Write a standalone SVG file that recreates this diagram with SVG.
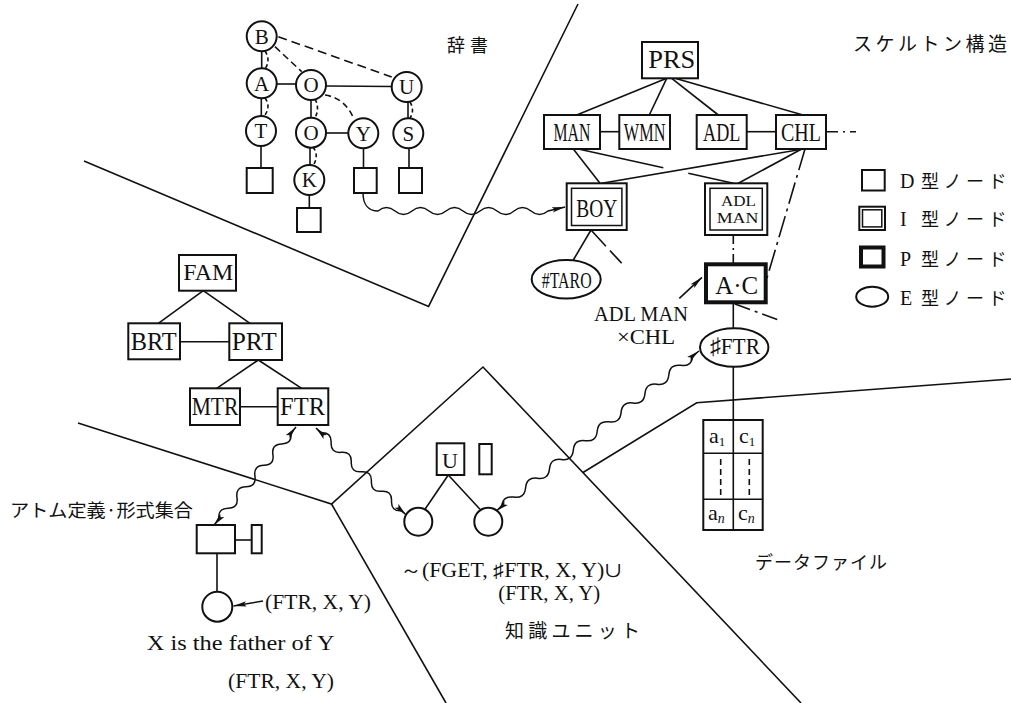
<svg xmlns="http://www.w3.org/2000/svg" width="1011" height="703" viewBox="0 0 1011 703">
<style>
.ln{stroke:#111;stroke-width:1.6;fill:none}
.bx{fill:#fff;stroke:#111;stroke-width:2}
.bx2{fill:none;stroke:#111;stroke-width:1.5}
.thk{fill:#fff;stroke:#111;stroke-width:4}
.wv{stroke:#111;stroke-width:1.5;fill:none}
.t{font-family:"Liberation Serif",serif;fill:#111;text-anchor:middle}
.tl{font-family:"Liberation Serif",serif;fill:#111}
.jp{font-family:"Noto Sans CJK JP",sans-serif;fill:#111}
.bd{stroke:#111;stroke-width:1.6;fill:none}
</style>
<defs>
<marker id="ah" viewBox="0 0 13 6" refX="13" refY="3" markerWidth="13" markerHeight="6" orient="auto-start-reverse" markerUnits="userSpaceOnUse"><path d="M0,0.3 L13,3 L0,5.7 L2.5,3 z" fill="#111"/></marker>
</defs>
<rect width="1011" height="703" fill="#fff"/>

<g id="boundaries">
<polyline class="bd" points="84,161 428.6,306.4 578,4"/>
<polyline class="bd" points="78,423 331.5,504 483,367 801,703"/>
<line class="bd" x1="331.5" y1="504" x2="446" y2="703"/>
<polyline class="bd" points="583,472.5 696.7,402.7 1011,379"/>
</g>

<g id="connectors">
<!-- dictionary -->
<line class="ln" x1="261.7" y1="51" x2="261.7" y2="68"/>
<path class="ln" d="M265,51 Q271,60 265,69" stroke-dasharray="4 3"/>
<line class="ln" x1="276.7" y1="84" x2="296" y2="84"/>
<line class="ln" x1="326" y1="86" x2="391.7" y2="86.5"/>
<line class="ln" x1="261.3" y1="98" x2="261.3" y2="116"/>
<path class="ln" d="M265,98 Q271,106 265,115" stroke-dasharray="4 3"/>
<line class="ln" x1="311" y1="100" x2="311" y2="118"/>
<path class="ln" d="M315,99 Q320,108 315,118" stroke-dasharray="4 3"/>
<line class="ln" x1="326" y1="133" x2="348.3" y2="133"/>
<line class="ln" x1="408" y1="102" x2="408" y2="118.3"/>
<path class="ln" d="M410,102 Q415,110 410,118" stroke-dasharray="4 3"/>
<line class="ln" x1="310" y1="147.7" x2="310" y2="165"/>
<path class="ln" d="M313,147 Q319,155 314,164" stroke-dasharray="4 3"/>
<line class="ln" x1="275" y1="46.7" x2="301.7" y2="71.7" stroke-dasharray="7 4"/>
<line class="ln" x1="278.3" y1="36.7" x2="391.7" y2="77" stroke-dasharray="9 5"/>
<path class="ln" d="M325,95 Q345,98 354,119" stroke-dasharray="6 4"/>
<line class="ln" x1="261" y1="146" x2="261" y2="168"/>
<line class="ln" x1="363.5" y1="148.3" x2="363.5" y2="168"/>
<line class="ln" x1="409" y1="148.3" x2="409" y2="168"/>
<line class="ln" x1="309.3" y1="195" x2="309.3" y2="208"/>
<path class="wv" d="M363,193 C363,205 369,211 378,211 q8.5,-7 17,0 t17,0 t17,0 t17,0 t17,0 t17,0 t17,0 t17,0 t17,0 t17,0 l17,-4" marker-end="url(#ah)"/>
<!-- skeleton -->
<line class="ln" x1="666.7" y1="78.3" x2="576.7" y2="115"/>
<line class="ln" x1="666.7" y1="78.3" x2="649.3" y2="115"/>
<line class="ln" x1="671.7" y1="78.3" x2="718.3" y2="115"/>
<line class="ln" x1="675" y1="78.3" x2="803" y2="115"/>
<line class="ln" x1="600" y1="131.7" x2="619.3" y2="131.7"/>
<line class="ln" x1="746.7" y1="131.7" x2="776" y2="131.7"/>
<line class="ln" x1="826" y1="131.7" x2="856" y2="131.7" stroke-dasharray="12 5 2 5"/>
<line class="ln" x1="573.3" y1="149" x2="600" y2="183.3"/>
<line class="ln" x1="578.3" y1="149" x2="663.3" y2="167.8"/>
<line class="ln" x1="688.3" y1="173.3" x2="733.3" y2="183.3"/>
<line class="ln" x1="803.3" y1="149" x2="601.7" y2="183.3"/>
<line class="ln" x1="801.7" y1="149" x2="738.3" y2="183.3"/>
<line class="ln" x1="805" y1="149" x2="767" y2="278" stroke-dasharray="22 5 3 5"/>
<line class="ln" x1="733.3" y1="235" x2="733.3" y2="263.3" stroke-dasharray="9 4 2 4"/>
<line class="ln" x1="591" y1="230" x2="573.3" y2="260"/>
<line class="ln" x1="591" y1="230" x2="621.7" y2="263.3" stroke-dasharray="22 6 12 0"/>
<line class="ln" x1="733.3" y1="303.3" x2="733.3" y2="328.3"/>
<line class="ln" x1="735" y1="304" x2="778.3" y2="320" stroke-dasharray="16 5 3 5"/>
<line class="ln" x1="733.3" y1="366.7" x2="733.3" y2="420"/>
<line class="ln" x1="679.3" y1="298.3" x2="702" y2="277.3" marker-end="url(#ah)"/>
<!-- family -->
<line class="ln" x1="203.3" y1="290.7" x2="158.3" y2="323.3"/>
<line class="ln" x1="203.3" y1="290.7" x2="250" y2="323.3"/>
<line class="ln" x1="180" y1="341.7" x2="229.3" y2="341.7"/>
<line class="ln" x1="258.3" y1="360" x2="216.7" y2="388.3"/>
<line class="ln" x1="258.3" y1="360" x2="301.7" y2="388.3"/>
<line class="ln" x1="240" y1="406.7" x2="277.7" y2="406.7"/>
<!-- atom -->
<line class="ln" x1="235" y1="540" x2="251.7" y2="540"/>
<line class="ln" x1="217" y1="553.3" x2="217" y2="591.7"/>
<line class="ln" x1="263" y1="601" x2="233.5" y2="606" marker-end="url(#ah)"/>
<!-- knowledge unit -->
<line class="ln" x1="448.3" y1="475" x2="425" y2="509.3"/>
<line class="ln" x1="448.3" y1="475" x2="480" y2="509.3"/>
<!-- wavy links -->
<path class="wv" transform="translate(296,427) rotate(129.9)" d="M0,0 l8,0 q7,-8 14,0 t14,0 t14,0 t14,0 t14,0 t14,0 t14,0 t14,0 l8,0" marker-start="url(#ah)" marker-end="url(#ah)"/>
<path class="wv" transform="translate(316,428) rotate(44)" d="M0,0 l7,0 q7,-8 14,0 t14,0 t14,0 t14,0 t14,0 t14,0 t14,0 t14,0 l6,0" marker-start="url(#ah)" marker-end="url(#ah)"/>
<path class="wv" transform="translate(699,351) rotate(141.75)" d="M0,0 l8,0 q7.6,-8 15.2,0 t15.2,0 t15.2,0 t15.2,0 t15.2,0 t15.2,0 t15.2,0 t15.2,0 t15.2,0 t15.2,0 t15.2,0 t15.2,0 t15.2,0 t15.2,0 t15.2,0 t15.2,0 l7.3,0" marker-start="url(#ah)" marker-end="url(#ah)"/>
</g>

<!-- dictionary nodes -->
<g id="dB"><circle class="bx" cx="261.7" cy="36.3" r="15"/><text class="t" x="261.7" y="43.6" font-size="21">B</text></g>
<g id="dA"><circle class="bx" cx="261.7" cy="83.3" r="15"/><text class="t" x="261.7" y="90.6" font-size="21">A</text></g>
<g id="dO1"><circle class="bx" cx="311" cy="85" r="15"/><text class="t" x="311" y="92.3" font-size="21">O</text></g>
<g id="dU"><circle class="bx" cx="406.7" cy="87" r="15"/><text class="t" x="406.7" y="94.3" font-size="21">U</text></g>
<g id="dT"><circle class="bx" cx="261" cy="131" r="15"/><text class="t" x="261" y="138.3" font-size="21">T</text></g>
<g id="dO2"><circle class="bx" cx="311" cy="132.7" r="15"/><text class="t" x="311" y="140" font-size="21">O</text></g>
<g id="dY"><circle class="bx" cx="363.3" cy="133.3" r="15"/><text class="t" x="363.3" y="140.6" font-size="21">Y</text></g>
<g id="dS"><circle class="bx" cx="408.3" cy="133.3" r="15"/><text class="t" x="408.3" y="140.6" font-size="21">S</text></g>
<g id="dK"><circle class="bx" cx="309.3" cy="180" r="15"/><text class="t" x="309.3" y="187.3" font-size="21">K</text></g>
<g id="dT-sq"><rect class="bx" x="246.7" y="168" width="26" height="25"/></g>
<g id="dY-sq"><rect class="bx" x="354" y="168" width="22.7" height="25"/></g>
<g id="dS-sq"><rect class="bx" x="399" y="168" width="23" height="25"/></g>
<g id="dK-sq"><rect class="bx" x="297" y="208" width="23.7" height="24"/></g>

<!-- skeleton nodes -->
<g id="PRS"><rect class="bx" x="642" y="42" width="56" height="36.3"/><text class="t" x="671.7" y="68.3" font-size="25" textLength="47" lengthAdjust="spacingAndGlyphs">PRS</text></g>
<g id="MAN"><rect class="bx" x="544" y="115" width="56" height="34"/><text class="t" x="572" y="140.5" font-size="25" textLength="37" lengthAdjust="spacingAndGlyphs">MAN</text></g>
<g id="WMN"><rect class="bx" x="619.3" y="115" width="50.7" height="34"/><text class="t" x="644.7" y="140.5" font-size="25" textLength="41.7" lengthAdjust="spacingAndGlyphs">WMN</text></g>
<g id="ADL"><rect class="bx" x="696.7" y="115" width="50" height="34"/><text class="t" x="721.7" y="140.5" font-size="25" textLength="37.3" lengthAdjust="spacingAndGlyphs">ADL</text></g>
<g id="CHL"><rect class="bx" x="776" y="115" width="50" height="34"/><text class="t" x="801" y="140.5" font-size="25" textLength="40" lengthAdjust="spacingAndGlyphs">CHL</text></g>
<g id="BOY"><rect class="bx" x="566.7" y="183.3" width="60" height="46.7"/><rect class="bx2" x="571.5" y="188.3" width="50.4" height="37.2"/><text class="t" x="596.7" y="217" font-size="25" textLength="41" lengthAdjust="spacingAndGlyphs">BOY</text></g>
<g id="ADLMAN"><rect class="bx" x="705" y="183.3" width="62.3" height="51.7"/><rect class="bx2" x="710" y="188.3" width="52.3" height="41.7"/><text class="t" x="738.5" y="206" font-size="14" textLength="35" lengthAdjust="spacingAndGlyphs">ADL</text><text class="t" x="737.5" y="222.5" font-size="14.5" textLength="41.7" lengthAdjust="spacingAndGlyphs">MAN</text></g>
<g id="AC"><rect class="thk" x="706" y="264.3" width="59.7" height="38"/><text class="t" x="736.7" y="293.5" font-size="25" textLength="43" lengthAdjust="spacingAndGlyphs">A·C</text></g>
<g id="TARO"><ellipse class="bx" cx="566.2" cy="279.2" rx="34.5" ry="19.2"/><text class="t" x="566.7" y="287.5" font-size="23" textLength="50" lengthAdjust="spacingAndGlyphs">#TARO</text></g>
<g id="FTRe"><ellipse class="bx" cx="734.2" cy="347.5" rx="34.2" ry="19.2"/><text class="t" x="735" y="354" font-size="23" textLength="50" lengthAdjust="spacingAndGlyphs">♯FTR</text></g>
<g id="ADLMANxCHL"><text class="t" x="641" y="320.5" font-size="22" textLength="94" lengthAdjust="spacingAndGlyphs">ADL MAN</text><text class="t" x="646" y="344" font-size="22" textLength="58" lengthAdjust="spacingAndGlyphs">×CHL</text></g>

<!-- data file table -->
<g id="table">
<rect class="bx" x="703.3" y="420" width="59.4" height="110"/>
<line class="ln" x1="703.3" y1="453.3" x2="762.7" y2="453.3"/>
<line class="ln" x1="703.3" y1="499.3" x2="762.7" y2="499.3"/>
<line class="ln" x1="733.3" y1="420" x2="733.3" y2="530"/>
<line class="ln" x1="720.7" y1="459" x2="720.7" y2="495" stroke-dasharray="6 4" stroke-width="1.3"/>
<line class="ln" x1="749.3" y1="459" x2="749.3" y2="495" stroke-dasharray="6 4" stroke-width="1.3"/>
<text class="tl" x="709" y="443.3" font-size="22">a<tspan font-size="13" dy="3">1</tspan></text>
<text class="tl" x="739" y="443.3" font-size="22">c<tspan font-size="13" dy="3">1</tspan></text>
<text class="tl" x="708" y="520" font-size="22">a<tspan font-size="14" dy="3" font-style="italic">n</tspan></text>
<text class="tl" x="738" y="520" font-size="22">c<tspan font-size="14" dy="3" font-style="italic">n</tspan></text>
</g>

<!-- family nodes -->
<g id="FAM"><rect class="bx" x="179" y="255" width="57" height="35.7"/><text class="t" x="208.3" y="280.3" font-size="23" textLength="50" lengthAdjust="spacingAndGlyphs">FAM</text></g>
<g id="BRT"><rect class="bx" x="128.3" y="323.3" width="51.7" height="36"/><text class="t" x="153.7" y="349.5" font-size="25" textLength="46" lengthAdjust="spacingAndGlyphs">BRT</text></g>
<g id="PRT"><rect class="bx" x="229.3" y="323.3" width="52.7" height="36.7"/><text class="t" x="254.2" y="349.5" font-size="25" textLength="45" lengthAdjust="spacingAndGlyphs">PRT</text></g>
<g id="MTR"><rect class="bx" x="190" y="388.3" width="50" height="36.7"/><text class="t" x="215" y="415" font-size="25" textLength="46.7" lengthAdjust="spacingAndGlyphs">MTR</text></g>
<g id="FTR"><rect class="bx" x="277.7" y="388.3" width="50.6" height="36.7"/><text class="t" x="302.5" y="415" font-size="25" textLength="45" lengthAdjust="spacingAndGlyphs">FTR</text></g>

<!-- atom definition -->
<g id="atom-sq"><rect class="bx" x="196.7" y="525" width="38.3" height="28.3"/></g>
<g id="atom-bar"><rect class="bx" x="251.7" y="525" width="10" height="28.3"/></g>
<g id="atom-circle"><circle class="bx" cx="217.3" cy="606.7" r="15"/></g>
<g id="atom-labels">
<text class="tl" x="265" y="608.5" font-size="21" textLength="106" lengthAdjust="spacingAndGlyphs">(FTR, X, Y)</text>
<text class="tl" x="146.7" y="650" font-size="21" textLength="188" lengthAdjust="spacingAndGlyphs">X is the father of Y</text>
<text class="tl" x="228" y="688" font-size="21" textLength="106" lengthAdjust="spacingAndGlyphs">(FTR, X, Y)</text>
</g>

<!-- knowledge unit -->
<g id="ku-U"><rect class="bx" x="436.7" y="443.3" width="27.6" height="31.7"/><text class="t" x="450" y="468.3" font-size="22">U</text></g>
<g id="ku-bar"><rect class="bx" x="479.3" y="444" width="12.4" height="30.3"/></g>
<g id="ku-c1"><circle class="bx" cx="418.3" cy="521.7" r="14"/></g>
<g id="ku-c2"><circle class="bx" cx="488.3" cy="521.7" r="14"/></g>
<g id="ku-labels">
<text class="tl" x="400" y="576.5" font-size="20" textLength="223" lengthAdjust="spacingAndGlyphs">～(FGET, ♯FTR, X, Y)∪</text>
<text class="tl" x="498.3" y="599.5" font-size="20" textLength="102" lengthAdjust="spacingAndGlyphs">(FTR, X, Y)</text>
</g>

<!-- legend -->
<g id="legend">
<rect class="bx" x="862" y="170" width="22.7" height="20.5" stroke-width="1.6"/>
<text x="900" y="188"><tspan class="tl" font-size="20">D</tspan><tspan class="jp" x="921" font-size="18" letter-spacing="4.5">型ノード</tspan></text>
<rect class="bx" x="859.3" y="206.7" width="25.7" height="23.3" stroke-width="1.6"/>
<rect class="bx2" x="862.5" y="209.8" width="19.3" height="17.1" stroke-width="1.3"/>
<text x="900" y="226"><tspan class="tl" font-size="20">I</tspan><tspan class="jp" x="921" font-size="18" letter-spacing="4.5">型ノード</tspan></text>
<rect class="thk" x="861" y="247.5" width="22.5" height="19" stroke-width="3.5"/>
<text x="900" y="265.5"><tspan class="tl" font-size="20">P</tspan><tspan class="jp" x="921" font-size="18" letter-spacing="4.5">型ノード</tspan></text>
<ellipse class="bx" cx="872.2" cy="296.7" rx="16" ry="10" stroke-width="1.6"/>
<text x="900" y="305"><tspan class="tl" font-size="20">E</tspan><tspan class="jp" x="921" font-size="18" letter-spacing="4.5">型ノード</tspan></text>
</g>

<!-- region titles -->
<g id="titles">
<text class="jp" x="447" y="52" font-size="18" letter-spacing="5">辞書</text>
<text class="jp" x="853" y="51" font-size="19" textLength="154" lengthAdjust="spacing">スケルトン構造</text>
<text class="jp" x="10" y="517" font-size="18" textLength="183" lengthAdjust="spacingAndGlyphs">アトム定義·形式集合</text>
<text class="jp" x="505" y="638" font-size="19" textLength="135" lengthAdjust="spacing">知識ユニット</text>
<text class="jp" x="755" y="569" font-size="18" textLength="132" lengthAdjust="spacing">データファイル</text>
</g>
</svg>
